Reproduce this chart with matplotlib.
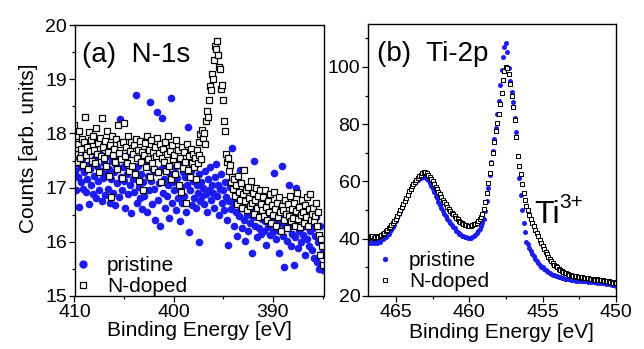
import numpy as np
import matplotlib
matplotlib.use("Agg")
import matplotlib.pyplot as plt
from matplotlib.lines import Line2D
from matplotlib.ticker import MultipleLocator

plt.rcParams['font.family'] = ['Liberation Sans', 'DejaVu Sans']

BLUE = '#1c1cf0'

# ---- (a) N-1s, pas de 0.1 eV de 410 a 385 eV
n1s_energy = np.round(np.arange(410.0, 384.95, -0.1), 1)
n1s_pristine = [
    17.95, 17.30, 16.95, 17.45, 17.20, 16.64, 17.38, 17.10, 17.52, 16.98,
    17.28, 17.60, 16.92, 17.15, 17.42, 16.70, 17.35, 17.05, 17.48, 16.88,
    17.22, 17.55, 16.80, 17.40, 17.12, 16.95, 17.62, 17.30, 16.75, 17.18,
    17.45, 16.86, 17.25, 17.58, 16.98, 17.35, 16.72, 17.15, 17.50, 16.90,
    17.28, 16.68, 17.42, 17.08, 17.60, 16.82, 18.26, 17.20, 16.95, 17.38,
    17.12, 16.62, 17.48, 17.25, 16.88, 17.62, 17.05, 16.53, 17.35, 17.15,
    16.92, 17.30, 18.70, 16.72, 17.40, 17.02, 16.80, 17.25, 16.60, 17.10,
    16.85, 17.45, 17.48, 16.55, 17.22, 16.95, 18.58, 17.12, 16.70, 17.32,
    16.98, 16.40, 17.28, 18.40, 16.78, 17.08, 16.30, 17.35, 18.28, 16.90,
    17.15, 16.62, 17.40, 16.85, 17.05, 16.44, 17.25, 18.65, 16.72, 17.10,
    16.95, 17.38, 16.58, 17.18, 16.80, 17.50, 16.38, 17.02, 16.72, 17.28,
    16.85, 17.20, 16.55, 17.05, 18.12, 16.18, 16.95, 17.30, 16.68, 17.12,
    16.80, 17.42, 16.62, 17.05, 16.90, 16.00, 17.25, 16.75, 17.10, 16.85,
    17.00, 16.70, 17.30, 16.88, 16.55, 17.15, 16.95, 17.38, 16.78, 17.05,
    16.90, 16.62, 17.20, 17.43, 16.85, 17.05, 16.50, 16.98, 17.25, 16.72,
    16.95, 16.58, 17.10, 16.82, 16.40, 15.94, 16.75, 17.02, 16.60, 17.73,
    16.72, 16.30, 16.95, 16.55, 16.10, 16.80, 16.48, 17.33, 16.62, 16.25,
    16.85, 16.40, 16.02, 16.68, 16.50, 16.20, 16.75, 16.35, 16.58, 15.80,
    16.45, 17.50, 16.30, 16.62, 16.08, 16.50, 16.25, 16.70, 16.15, 16.42,
    16.58, 16.20, 16.38, 15.95, 16.52, 16.28, 16.65, 16.12, 16.45, 16.32,
    16.18, 17.27, 16.40, 16.05, 16.55, 16.22, 15.80, 16.35, 16.48, 17.40,
    16.10, 15.54, 16.30, 16.45, 16.02, 16.25, 17.05, 16.38, 15.92, 16.15,
    16.32, 15.57, 16.08, 16.99, 16.40, 15.88, 16.20, 16.50, 16.00, 16.28,
    16.12, 16.42, 15.75, 16.30, 16.05, 16.55, 15.92, 16.20, 16.62, 15.85,
    16.25, 15.70, 16.10, 16.45, 15.62, 16.00, 15.50, 16.30, 15.55, 15.80,
    15.48]
n1s_ndoped = [
    18.15, 17.62, 17.95, 17.48, 17.80, 18.05, 17.55, 17.72, 17.90, 17.42,
    17.85, 18.30, 17.60, 17.75, 17.35, 18.02, 17.68, 17.88, 17.50, 17.95,
    17.70, 17.45, 18.10, 17.62, 17.83, 17.28, 17.92, 17.58, 18.28, 17.74,
    17.55, 17.86, 17.40, 18.05, 17.66, 17.22, 17.78, 16.82, 17.95, 17.60,
    17.72, 17.48, 17.90, 17.35, 18.15, 17.64, 17.80, 17.52, 17.18, 17.85,
    18.20, 17.58, 17.74, 17.45, 17.96, 17.30, 17.68, 17.84, 17.40, 17.62,
    17.78, 17.25, 17.90, 17.55, 17.70, 17.12, 17.86, 17.48, 17.65, 16.95,
    17.60, 17.82, 17.38, 17.95, 17.52, 17.70, 17.20, 17.88, 17.45, 17.66,
    17.35, 17.75, 17.58, 17.92, 17.28, 17.64, 17.80, 17.10, 17.55, 17.72,
    17.48, 17.85, 17.30, 17.62, 17.96, 17.40, 17.68, 17.15, 17.78, 17.52,
    17.60, 17.25, 17.88, 17.42, 17.70, 17.05, 17.55, 16.92, 17.75, 17.36,
    17.65, 17.48, 16.72, 17.80, 17.32, 17.58, 17.20, 17.72, 17.45, 17.62,
    17.38, 17.55, 17.15, 17.70, 17.46, 17.85, 17.60, 17.98, 17.52, 18.06,
    17.92, 18.00, 17.80, 18.22, 18.42, 18.30, 18.62, 18.88, 18.80, 19.10,
    19.00, 19.35, 19.62, 19.55, 19.70, 19.45, 19.22, 19.18, 18.82, 18.90,
    18.62, 18.22, 18.05, 17.62, 17.48, 17.55, 17.30, 17.42, 17.10, 17.20,
    16.98, 17.15, 16.85, 17.05, 16.70, 17.22, 16.92, 16.78, 17.08, 16.62,
    16.88, 17.32, 16.75, 16.95, 16.58, 17.02, 16.80, 16.66, 17.12, 16.72,
    16.90, 16.52, 16.78, 17.00, 16.62, 16.85, 16.45, 16.96, 16.70, 16.58,
    16.82, 16.48, 16.95, 16.64, 16.40, 16.76, 16.55, 16.88, 16.35, 16.68,
    16.50, 16.92, 16.60, 16.30, 16.72, 16.45, 16.82, 16.55, 16.20, 16.66,
    16.58, 16.40, 16.78, 16.52, 16.25, 16.70, 16.48, 16.85, 16.38, 16.60,
    16.44, 16.72, 16.30, 16.56, 16.90, 16.42, 16.65, 16.28, 16.50, 16.78,
    16.55, 16.35, 16.68, 16.46, 16.82, 16.30, 16.60, 16.88, 16.40, 16.52,
    16.62, 16.38, 16.48, 16.72, 16.30, 16.55, 16.12, 15.75, 16.05, 15.92,
    15.58]

# ---- (b) Ti-2p, pas de 0.1 eV de 467 a 450 eV
ti2p_energy = np.round(np.arange(467.0, 449.95, -0.1), 1)
ti2p_pristine = [
    39.0, 38.6, 38.9, 38.4, 38.7, 38.5, 38.9, 38.6, 39.1, 38.8,
    39.6, 39.8, 40.4, 40.6, 41.3, 41.7, 42.6, 43.1, 44.1, 44.9,
    46.3, 47.2, 48.5, 49.5, 50.9, 51.9, 53.3, 54.2, 55.5, 56.3,
    57.4, 58.0, 59.0, 59.5, 60.3, 60.6, 61.2, 61.3, 61.7, 61.6,
    61.5, 60.9, 60.4, 59.3, 58.5, 57.2, 56.3, 55.0, 54.1, 52.8,
    51.9, 50.6, 49.8, 48.6, 47.9, 46.9, 46.3, 45.4, 44.9, 44.0,
    43.6, 42.8, 42.5, 41.8, 41.6, 41.0, 40.9, 40.5, 40.5, 40.2,
    40.3, 40.4, 40.6, 40.9, 41.3, 41.9, 42.6, 43.4, 44.4, 45.5,
    47.0, 49.6, 53.2, 57.6, 62.3, 66.9, 70.6, 75.0, 78.8, 83.6,
    88.0, 93.7, 98.8, 103.6, 106.8, 108.4, 105.2, 99.6, 95.2, 91.3,
    87.6, 82.3, 77.2, 68.8, 61.2, 55.3, 50.2, 45.6, 42.2, 39.0,
    38.1, 36.6, 35.7, 34.5, 33.8, 32.8, 32.3, 31.4, 31.0, 30.3,
    30.0, 29.4, 29.2, 28.6, 28.4, 27.9, 27.7, 27.3, 27.3, 26.9,
    26.9, 26.6, 26.6, 26.3, 26.4, 26.0, 26.1, 25.8, 26.0, 25.7,
    25.8, 25.5, 25.7, 25.4, 25.6, 25.3, 25.5, 25.2, 25.4, 25.1,
    25.3, 25.0, 25.2, 24.9, 25.1, 24.8, 25.0, 24.7, 24.9, 24.6,
    24.8, 24.5, 24.6, 24.3, 24.4, 24.1, 24.2, 23.9, 24.0, 23.7,
    23.6]
ti2p_ndoped = [
    40.6, 40.3, 40.8, 40.5, 40.9, 40.4, 40.7, 41.0, 40.6, 41.1,
    41.3, 41.8, 42.0, 42.6, 42.9, 43.6, 44.1, 44.8, 45.4, 46.3,
    47.0, 48.0, 48.9, 50.0, 51.0, 52.2, 53.2, 54.4, 55.4, 56.5,
    57.4, 58.3, 59.1, 59.9, 60.6, 61.3, 61.9, 62.4, 62.8, 63.2,
    63.4, 63.0, 62.3, 61.6, 60.8, 60.0, 59.1, 58.2, 57.3, 56.4,
    55.5, 54.6, 53.7, 52.8, 52.0, 51.2, 50.5, 49.8, 49.1, 48.5,
    47.9, 47.3, 46.8, 46.3, 45.9, 45.5, 45.1, 44.9, 44.7, 44.5,
    44.5, 44.6, 44.8, 45.1, 45.3, 45.6, 46.1, 46.8, 47.6, 48.6,
    50.3, 52.8, 56.0, 59.5, 63.0, 66.4, 70.0, 73.8, 77.5, 80.5,
    83.5, 87.0, 90.8, 95.5, 98.5, 100.0, 99.6, 97.5, 94.0, 90.0,
    86.0, 81.5, 75.5, 69.0, 65.5, 62.5, 59.0, 56.0, 53.5, 51.5,
    50.0, 48.3, 46.8, 45.5, 44.3, 43.2, 42.0, 40.8, 39.6, 38.5,
    37.4, 36.4, 35.4, 34.5, 33.7, 33.0, 32.3, 31.6, 31.0, 30.5,
    30.0, 29.6, 29.2, 28.8, 28.5, 28.2, 27.9, 27.7, 27.5, 27.3,
    27.1, 27.0, 26.8, 26.9, 26.6, 26.7, 26.4, 26.5, 26.3, 26.4,
    26.2, 26.3, 26.0, 26.1, 25.9, 26.0, 25.7, 25.8, 25.6, 25.7,
    25.5, 25.6, 25.3, 25.4, 25.1, 25.2, 24.9, 25.0, 24.7, 24.8,
    24.4]

fig = plt.figure(figsize=(6.44, 3.49), dpi=100)
ax1 = fig.add_axes([74.5 / 644, 53 / 349, 249 / 644, 271 / 349])
ax2 = fig.add_axes([368 / 644, 53 / 349, 248 / 644, 272 / 349])


def style_axes(ax):
    for sp in ax.spines.values():
        sp.set_linewidth(1.0)
    ax.tick_params(which='major', direction='out', length=4, width=0.9,
                   labelsize=14, pad=1.5)
    ax.tick_params(which='minor', direction='out', length=2.2, width=0.9)
    ax.set_xlabel('Binding Energy [eV]', fontsize=15, labelpad=0.5)


# panneau (a)
ax1.plot(n1s_energy, n1s_pristine, ls='none', marker='o', ms=5.5, mew=0,
         color=BLUE)
ax1.plot(n1s_energy, n1s_ndoped, ls='none', marker='s', ms=4.6, mew=0.9,
         mfc='white', mec='black')
ax1.set_xlim(410, 384.9)
ax1.set_ylim(15, 20)
ax1.xaxis.set_major_locator(MultipleLocator(10))
ax1.xaxis.set_minor_locator(MultipleLocator(5))
ax1.yaxis.set_major_locator(MultipleLocator(1))
ax1.yaxis.set_minor_locator(MultipleLocator(0.5))
style_axes(ax1)
ax1.set_ylabel('Counts [arb. units]', fontsize=15)
ax1.yaxis.set_label_coords(-0.145, 0.545)
ax1.text(0.03, 0.863, '(a)  N-1s', transform=ax1.transAxes, fontsize=20,
         va='baseline')
h1 = [Line2D([], [], ls='none', marker='o', ms=6.0, mew=0, color=BLUE),
      Line2D([], [], ls='none', marker='s', ms=4.4, mew=0.9, mfc='white',
             mec='black')]
ax1.legend(h1, ['pristine', 'N-doped'], loc='lower left',
           bbox_to_anchor=(-0.008, 0.0), frameon=False, fontsize=15,
           handlelength=1.0, handletextpad=0.65, labelspacing=0.1,
           borderpad=0, borderaxespad=0)

# panneau (b)
ax2.plot(ti2p_energy, ti2p_pristine, ls='none', marker='o', ms=3.6, mew=0,
         color=BLUE)
ax2.plot(ti2p_energy, ti2p_ndoped, ls='none', marker='s', ms=3.4, mew=0.75,
         mfc='white', mec='black')
ax2.set_xlim(466.9, 450)
ax2.set_ylim(20, 115)
ax2.xaxis.set_major_locator(MultipleLocator(5))
ax2.xaxis.set_minor_locator(MultipleLocator(2.5))
ax2.yaxis.set_major_locator(MultipleLocator(20))
ax2.yaxis.set_minor_locator(MultipleLocator(10))
style_axes(ax2)
ax2.xaxis.set_label_coords(0.538, -0.1)
ax2.xaxis.label.set_va('top')
ax2.text(0.035, 0.864, '(b)  Ti-2p', transform=ax2.transAxes, fontsize=20,
         va='baseline')
ax2.text(455.55, 45.5, 'Ti', fontsize=23, va='baseline')
ax2.annotate('3+', xy=(455.55, 45.5), xytext=(17.5, 11), fontsize=15,
             textcoords='offset points', va='baseline')
h2 = [Line2D([], [], ls='none', marker='o', ms=3.8, mew=0, color=BLUE),
      Line2D([], [], ls='none', marker='s', ms=3.4, mew=0.75, mfc='white',
             mec='black')]
ax2.legend(h2, ['pristine', 'N-doped'], loc='lower left',
           bbox_to_anchor=(0.027, 0.017), frameon=False, fontsize=15,
           handlelength=1.0, handletextpad=0.65, labelspacing=0.1,
           borderpad=0, borderaxespad=0)

fig.savefig('out.png', dpi=100)
